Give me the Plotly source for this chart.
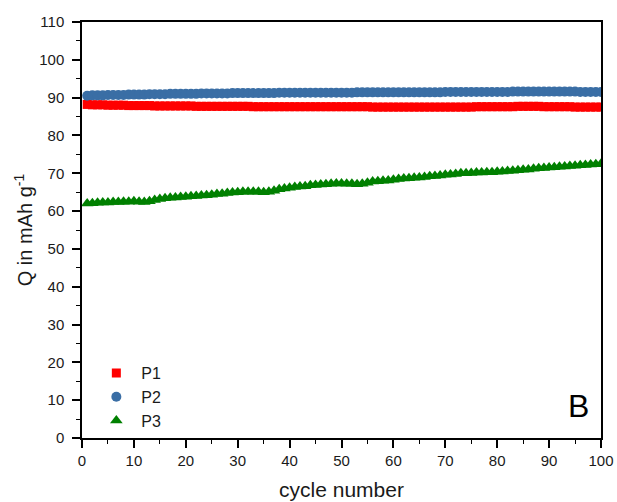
import plotly.graph_objects as go

cycles = list(range(1, 101))

p1 = [88.2, 88.1, 88.1, 88.1, 88.0, 88.0, 88.0, 88.0, 87.9, 87.9,
      87.9, 87.9, 87.9, 87.8, 87.8, 87.8, 87.8, 87.8, 87.8, 87.8,
      87.8, 87.7, 87.7, 87.7, 87.7, 87.7, 87.7, 87.7, 87.7, 87.7,
      87.7, 87.7, 87.6, 87.6, 87.6, 87.6, 87.6, 87.6, 87.6, 87.6,
      87.6, 87.6, 87.6, 87.6, 87.6, 87.6, 87.6, 87.6, 87.6, 87.6,
      87.6, 87.6, 87.6, 87.6, 87.6, 87.5, 87.5, 87.5, 87.5, 87.5,
      87.5, 87.5, 87.5, 87.5, 87.5, 87.5, 87.5, 87.5, 87.5, 87.5,
      87.5, 87.5, 87.5, 87.5, 87.5, 87.6, 87.6, 87.6, 87.6, 87.6,
      87.6, 87.6, 87.6, 87.7, 87.7, 87.7, 87.7, 87.7, 87.6, 87.6,
      87.6, 87.6, 87.6, 87.6, 87.5, 87.5, 87.5, 87.5, 87.5, 87.5]

p2 = [90.5, 90.6, 90.6, 90.6, 90.7, 90.7, 90.7, 90.7, 90.8, 90.8,
      90.8, 90.8, 90.9, 90.9, 90.9, 90.9, 91.0, 91.0, 91.0, 91.0,
      91.0, 91.0, 91.1, 91.1, 91.1, 91.1, 91.1, 91.1, 91.2, 91.2,
      91.2, 91.2, 91.2, 91.2, 91.2, 91.2, 91.2, 91.3, 91.3, 91.3,
      91.3, 91.3, 91.3, 91.3, 91.3, 91.3, 91.3, 91.3, 91.3, 91.3,
      91.3, 91.3, 91.4, 91.4, 91.4, 91.4, 91.4, 91.4, 91.4, 91.4,
      91.4, 91.4, 91.4, 91.4, 91.4, 91.4, 91.4, 91.4, 91.4, 91.5,
      91.5, 91.5, 91.5, 91.5, 91.5, 91.5, 91.5, 91.5, 91.5, 91.5,
      91.5, 91.5, 91.6, 91.6, 91.6, 91.6, 91.6, 91.6, 91.6, 91.6,
      91.6, 91.6, 91.6, 91.6, 91.6, 91.5, 91.5, 91.5, 91.5, 91.5]

p3 = [62.0, 62.1, 62.2, 62.3, 62.3, 62.4, 62.4, 62.5, 62.5, 62.6,
      62.5, 62.4, 62.6, 62.9, 63.2, 63.4, 63.5, 63.6, 63.7, 63.8,
      63.9, 64.0, 64.1, 64.2, 64.3, 64.5, 64.6, 64.8, 64.9, 65.0,
      65.1, 65.1, 65.1, 65.1, 65.0, 65.1, 65.4, 65.8, 66.0, 66.2,
      66.4, 66.5, 66.6, 66.8, 66.9, 67.0, 67.1, 67.2, 67.3, 67.3,
      67.2, 67.2, 67.1, 67.2, 67.5, 67.8, 67.9, 68.0, 68.1, 68.3,
      68.5, 68.6, 68.7, 68.8, 68.9, 69.0, 69.2, 69.3, 69.4, 69.6,
      69.7, 69.8, 70.0, 70.0, 70.1, 70.2, 70.2, 70.3, 70.3, 70.4,
      70.5, 70.6, 70.7, 70.8, 70.9, 71.0, 71.2, 71.3, 71.4, 71.5,
      71.6, 71.7, 71.8, 71.9, 72.0, 72.1, 72.2, 72.3, 72.4, 72.5]

series_names = ["P1", "P2", "P3"]

FONT = "Arial"

fig = go.Figure()
fig.add_trace(go.Scatter(x=cycles, y=p1, mode="markers", name=series_names[0],
                         marker=dict(symbol="square", size=9, color="#ff0000", line=dict(width=0))))
fig.add_trace(go.Scatter(x=cycles, y=p2, mode="markers", name=series_names[1],
                         marker=dict(symbol="circle", size=10, color="#3a6ea5", line=dict(width=0))))
fig.add_trace(go.Scatter(x=cycles, y=p3, mode="markers", name=series_names[2],
                         marker=dict(symbol="triangle-up", size=11, color="#008000", line=dict(width=0))))

fig.update_layout(
    width=617, height=502,
    margin=dict(l=82, r=16, t=22, b=64),
    paper_bgcolor="white", plot_bgcolor="white",
    font=dict(family=FONT, size=15, color="#1a1a1a"),
    showlegend=True,
    legend=dict(x=0.018, y=0.0, xanchor="left", yanchor="bottom",
                bgcolor="rgba(0,0,0,0)", font=dict(size=16, family=FONT),
                itemsizing="trace", tracegroupgap=0, itemwidth=40),
    xaxis=dict(range=[0, 100], tickmode="linear", tick0=0, dtick=10,
               showgrid=False, zeroline=False, automargin=False,
               showline=True, linecolor="black", linewidth=1.5, mirror=True,
               ticks="outside", ticklen=8, tickwidth=1.5, tickcolor="black",
               minor=dict(dtick=5, ticks="outside", ticklen=4, tickwidth=1.2, tickcolor="black"),
               title=dict(text="cycle number", font=dict(size=21, family=FONT), standoff=15),
               tickfont=dict(size=15, family=FONT)),
    yaxis=dict(range=[0, 110], tickmode="linear", tick0=0, dtick=10,
               showgrid=False, zeroline=False, automargin=False,
               showline=True, linecolor="black", linewidth=1.5, mirror=True,
               ticks="outside", ticklen=8, tickwidth=1.5, tickcolor="black",
               ticklabelstandoff=5,
               minor=dict(dtick=5, ticks="outside", ticklen=4, tickwidth=1.2, tickcolor="black"),
               title=dict(text="Q in mAh g<sup>-1</sup>", font=dict(size=20, family=FONT), standoff=1),
               tickfont=dict(size=15, family=FONT)),
    annotations=[dict(text="B", x=0.98, y=0.03, xref="paper", yref="paper",
                      xanchor="right", yanchor="bottom", showarrow=False,
                      font=dict(size=32, family=FONT, color="black"))],
)

fig.write_html("out.html")
